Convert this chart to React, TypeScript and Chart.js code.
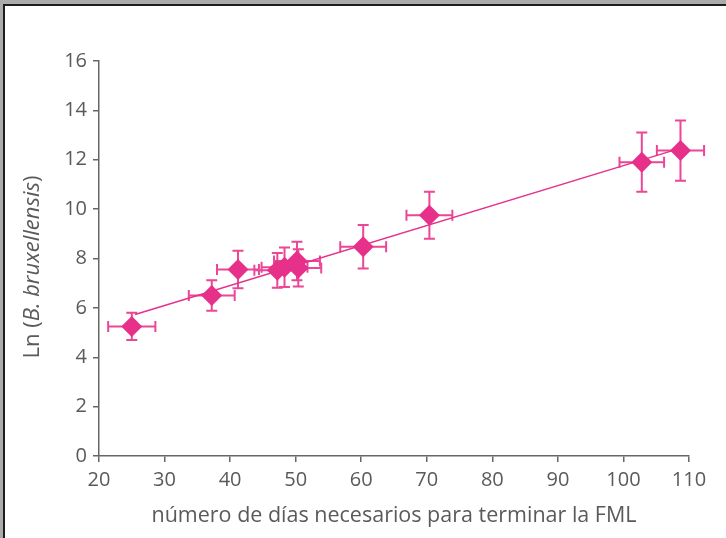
import React, { useEffect, useRef } from 'react';
import { Chart, registerables } from 'chart.js';

Chart.register(...registerables);

// Data
const xDays = [25, 37.2, 41.2, 47.2, 48.3, 50.2, 50.4, 60.3, 70.4, 102.8, 108.7];
const yLn = [5.25, 6.5, 7.55, 7.52, 7.65, 7.9, 7.62, 8.48, 9.75, 11.9, 12.37];
const xErr = [3.6, 3.5, 3.2, 3.5, 3.5, 3.5, 3.5, 3.5, 3.5, 3.4, 3.6];
const yErr = [0.55, 0.62, 0.76, 0.7, 0.8, 0.78, 0.75, 0.88, 0.95, 1.2, 1.22];
const fitX = [25.5, 108.5];
const fitY = [5.73, 12.45];
const xTickValues = [20, 30, 40, 50, 60, 70, 80, 90, 100, 110];
const yTickValues = [0, 2, 4, 6, 8, 10, 12, 14, 16];
const xTitle = 'número de días necesarios para terminar la FML';
const yTitleParts = ['Ln (', 'B. bruxellensis', ')'];

const PINK = '#e6308a';
const ERR_PINK = '#ec4696';
const AXIS = '#666666';
const TEXT = '#5a5a5a';
const FONT = "'Open Sans', 'Noto Sans', sans-serif";

const errorBarsPlugin = {
  id: 'errorBars',
  beforeDatasetsDraw(chart: any) {
    const { ctx, scales } = chart;
    const xs = scales.x;
    const ys = scales.y;
    const cap = 5.5;
    ctx.save();
    ctx.strokeStyle = ERR_PINK;
    ctx.lineWidth = 2;
    for (let i = 0; i < xDays.length; i++) {
      const px = xs.getPixelForValue(xDays[i]);
      const py = ys.getPixelForValue(yLn[i]);
      const x0 = xs.getPixelForValue(xDays[i] - xErr[i]);
      const x1 = xs.getPixelForValue(xDays[i] + xErr[i]);
      const y0 = ys.getPixelForValue(yLn[i] - yErr[i]);
      const y1 = ys.getPixelForValue(yLn[i] + yErr[i]);
      ctx.beginPath();
      ctx.moveTo(x0, py); ctx.lineTo(x1, py);
      ctx.moveTo(x0, py - cap); ctx.lineTo(x0, py + cap);
      ctx.moveTo(x1, py - cap); ctx.lineTo(x1, py + cap);
      ctx.moveTo(px, y0); ctx.lineTo(px, y1);
      ctx.moveTo(px - cap, y0); ctx.lineTo(px + cap, y0);
      ctx.moveTo(px - cap, y1); ctx.lineTo(px + cap, y1);
      ctx.stroke();
    }
    ctx.restore();
  },
};

const yTitlePlugin = {
  id: 'yTitleMixed',
  afterDraw(chart: any) {
    const { ctx } = chart;
    const size = 22;
    const regular = `${size}px ${FONT}`;
    const italic = `italic ${size}px ${FONT}`;
    const fonts = [regular, italic, regular];
    ctx.save();
    const widths = yTitleParts.map((t, i) => {
      ctx.font = fonts[i];
      return ctx.measureText(t).width;
    });
    const total = widths.reduce((a, b) => a + b, 0);
    ctx.translate(33, 267);
    ctx.rotate(-Math.PI / 2);
    ctx.fillStyle = TEXT;
    ctx.textBaseline = 'middle';
    ctx.textAlign = 'left';
    let cx = -total / 2;
    yTitleParts.forEach((t, i) => {
      ctx.font = fonts[i];
      ctx.fillText(t, cx, 0);
      cx += widths[i];
    });
    ctx.restore();
  },
};

export default function App() {
  const canvasRef = useRef<HTMLCanvasElement | null>(null);

  useEffect(() => {
    if (!canvasRef.current) return;
    const points = xDays.map((x, i) => ({ x, y: yLn[i] }));
    const fit = fitX.map((x, i) => ({ x, y: fitY[i] }));
    const chart = new Chart(canvasRef.current, {
      type: 'scatter',
      data: {
        datasets: [
          {
            type: 'line',
            data: fit,
            borderColor: PINK,
            borderWidth: 1.5,
            pointRadius: 0,
            fill: false,
            order: 2,
          } as any,
          {
            type: 'scatter',
            data: points,
            pointStyle: 'rectRot',
            pointRadius: 10.5,
            pointHoverRadius: 10.5,
            backgroundColor: PINK,
            borderColor: PINK,
            borderWidth: 0,
            clip: false,
            order: 1,
          } as any,
        ],
      },
      options: {
        responsive: false,
        animation: false,
        devicePixelRatio: 1,
        layout: { padding: { left: 0, top: 61, right: 37, bottom: 0 } },
        plugins: {
          legend: { display: false },
          tooltip: { enabled: false },
        },
        scales: {
          x: {
            type: 'linear',
            min: 20,
            max: 110,
            afterFit: (s: any) => { s.height = 82; },
            afterBuildTicks: (s: any) => { s.ticks = xTickValues.map((v) => ({ value: v })); },
            border: { display: true, color: AXIS, width: 1.5 },
            grid: { display: true, drawOnChartArea: false, drawTicks: true, tickLength: 6, color: AXIS, lineWidth: 1.5 },
            ticks: { color: TEXT, font: { family: FONT, size: 20 }, padding: 6, maxRotation: 0 },
            title: { display: true, text: xTitle, color: TEXT, font: { family: FONT, size: 21.5 }, padding: { top: 0, bottom: 9 } },
          },
          y: {
            type: 'linear',
            min: 0,
            max: 16,
            afterFit: (s: any) => { s.width = 99; },
            afterBuildTicks: (s: any) => { s.ticks = yTickValues.map((v) => ({ value: v })); },
            border: { display: true, color: AXIS, width: 1.5 },
            grid: { display: true, drawOnChartArea: false, drawTicks: true, tickLength: 6, color: AXIS, lineWidth: 1.5 },
            ticks: { color: TEXT, font: { family: FONT, size: 20 }, padding: 6 },
          },
        },
      },
      plugins: [errorBarsPlugin, yTitlePlugin],
    });
    return () => chart.destroy();
  }, []);

  return (
    <div style={{ position: 'absolute', left: 0, top: 0, width: 726, height: 538, background: '#ababab', overflow: 'hidden' }}>
      <div
        style={{
          position: 'absolute',
          left: 3,
          top: 4,
          width: 723,
          height: 534,
          background: '#ffffff',
          borderTop: '2px solid #1e1e1e',
          borderLeft: '2px solid #1e1e1e',
          boxSizing: 'border-box',
        }}
      />
      <canvas ref={canvasRef} width={726} height={538} style={{ position: 'absolute', left: 0, top: 0 }} />
    </div>
  );
}
